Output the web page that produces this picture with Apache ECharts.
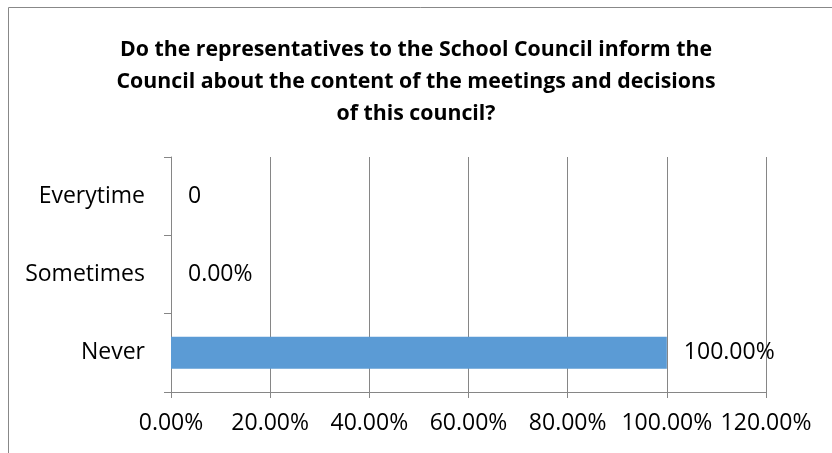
<!DOCTYPE html>
<html><head><meta charset="utf-8">
<script src="https://cdn.jsdelivr.net/npm/echarts@6/dist/echarts.min.js"></script>
<style>html,body{margin:0;padding:0;background:#fff}#c{width:832px;height:453px}</style>
</head><body><div id="c"></div>
<script>
const categories = ['Never', 'Sometimes', 'Everytime'];
const values = [1.0, 0, 0];
const dataLabels = ['100.00%', '0.00%', '0'];
const xTicks = ['0.00%', '20.00%', '40.00%', '60.00%', '80.00%', '100.00%', '120.00%'];
const titleText = 'Do the representatives to the School Council inform the\nCouncil about the content of the meetings and decisions\nof this council?';

const FONT = '"Open Sans", sans-serif';
const chart = echarts.init(document.getElementById('c'), null, {renderer: 'canvas'});
chart.setOption({
  animation: false,
  graphic: [{type: 'rect', shape: {x: 8.5, y: 7.5, width: 900, height: 500}, style: {fill: 'none', stroke: '#888', lineWidth: 1}, silent: true}],
  title: {
    text: titleText, left: 'center', top: 29,
    textStyle: {fontFamily: FONT, fontWeight: 'bold', fontSize: 21.3, lineHeight: 32, color: '#000'}
  },
  grid: {left: 171, right: 66, top: 157, bottom: 61, containLabel: false},
  xAxis: {
    type: 'value', min: 0, max: 1.2, interval: 0.2,
    axisLine: {show: true, lineStyle: {color: '#868686'}},
    axisTick: {show: true, length: 6, lineStyle: {color: '#868686'}},
    splitLine: {show: true, lineStyle: {color: '#868686'}},
    axisLabel: {
      margin: 20, fontFamily: FONT, fontSize: 23, color: '#000',
      formatter: (v) => xTicks[Math.round(v / 0.2)]
    }
  },
  yAxis: {
    type: 'category', data: categories,
    axisLine: {show: true, lineStyle: {color: '#868686'}},
    axisTick: {show: true, length: 7, lineStyle: {color: '#868686'}},
    axisLabel: {margin: 26, fontFamily: FONT, fontSize: 23, color: '#000'}
  },
  series: [{
    type: 'bar', data: values, barWidth: 32,
    itemStyle: {color: '#5B9BD5'},
    label: {
      show: true, position: 'right', distance: 17,
      fontFamily: FONT, fontSize: 23, color: '#000',
      formatter: (p) => dataLabels[p.dataIndex]
    }
  }]
});
</script></body></html>
